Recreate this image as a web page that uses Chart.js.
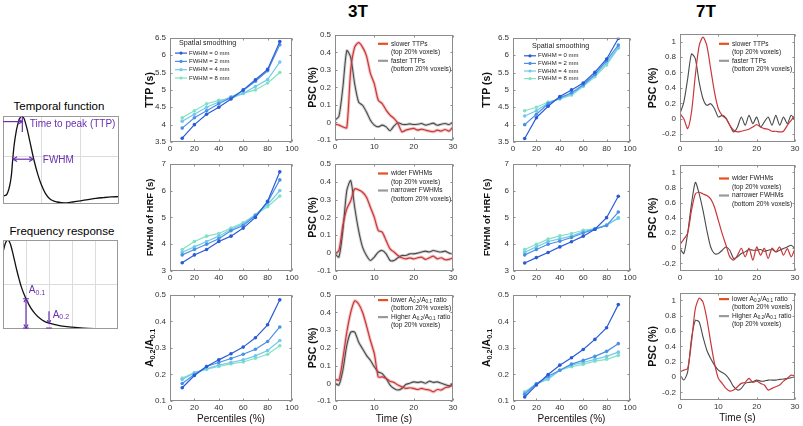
<!DOCTYPE html>
<html lang="en">
<head>
<meta charset="UTF-8">
<meta name="viewport" content="width=device-width, initial-scale=1.0">
<script src="https://cdn.jsdelivr.net/npm/chart.js"></script>
<title>HRF shape and spatial smoothing, 3T and 7T</title>
<style>
    body { margin: 0; background: #fff; }
    #fig { position: relative; width: 803px; height: 426px; overflow: hidden;
           font-family: "Liberation Sans", Arial, sans-serif; }
    #fig canvas { position: absolute; }
    .lbl { position: absolute; white-space: nowrap; text-align: center; color: #000; }
</style>
</head>
<body>
<div id="fig">
    <div class="lbl" style="left:318px; top:2px; width:80px; font-size:17px; font-weight:bold;">3T</div>
    <div class="lbl" style="left:666px; top:2px; width:80px; font-size:17px; font-weight:bold;">7T</div>
    <div class="lbl" style="left:0px; top:100px; width:118px; font-size:11.5px;">Temporal function</div>
    <div class="lbl" style="left:0px; top:225px; width:124px; font-size:11.5px;">Frequency response</div>
</div>

<script>
// ---------------- data ----------------
const percentiles = [10, 20, 30, 40, 50, 60, 70, 80, 90];
const smoothLabels = ['FWHM = 0 mm', 'FWHM = 2 mm', 'FWHM = 4 mm', 'FWHM = 8 mm'];

// 3T, metric vs percentile, one array per smoothing kernel
const ttp3T_0mm = [3.61, 4.0, 4.3, 4.5, 4.74, 5.0, 5.29, 5.59, 6.39];
const ttp3T_2mm = [3.9, 4.2, 4.4, 4.6, 4.78, 4.98, 5.25, 5.55, 6.3];
const ttp3T_4mm = [4.1, 4.3, 4.5, 4.65, 4.8, 4.9, 5.1, 5.3, 5.8];
const ttp3T_8mm = [4.2, 4.4, 4.6, 4.7, 4.75, 4.9, 5.0, 5.2, 5.5];

const fwhm3T_0mm = [3.31, 3.6, 3.8, 4.1, 4.3, 4.6, 5.0, 5.6, 6.7];
const fwhm3T_2mm = [3.6, 3.8, 4.0, 4.2, 4.5, 4.7, 5.06, 5.57, 6.4];
const fwhm3T_4mm = [3.7, 3.9, 4.1, 4.3, 4.55, 4.75, 5.1, 5.48, 6.0];
const fwhm3T_8mm = [3.8, 4.1, 4.3, 4.4, 4.6, 4.8, 5.1, 5.4, 5.8];

const ratio3T_0mm = [0.15, 0.196, 0.23, 0.255, 0.278, 0.303, 0.338, 0.387, 0.481];
const ratio3T_2mm = [0.166, 0.2, 0.23, 0.245, 0.26, 0.276, 0.295, 0.324, 0.379];
const ratio3T_4mm = [0.181, 0.206, 0.221, 0.235, 0.245, 0.255, 0.27, 0.29, 0.328];
const ratio3T_8mm = [0.186, 0.206, 0.22, 0.23, 0.24, 0.247, 0.261, 0.276, 0.308];

// 7T
const ttp7T_0mm = [3.6, 4.2, 4.53, 4.81, 5.0, 5.2, 5.51, 5.89, 6.48];
const ttp7T_2mm = [4.0, 4.3, 4.6, 4.77, 4.92, 5.15, 5.45, 5.84, 6.29];
const ttp7T_4mm = [4.25, 4.4, 4.62, 4.75, 4.88, 5.12, 5.42, 5.78, 6.22];
const ttp7T_8mm = [4.4, 4.5, 4.65, 4.74, 4.85, 5.1, 5.38, 5.72, 6.2];

const fwhm7T_0mm = [3.3, 3.5, 3.69, 3.9, 4.09, 4.3, 4.56, 4.99, 5.79];
const fwhm7T_2mm = [3.6, 3.8, 4.0, 4.11, 4.25, 4.42, 4.56, 4.7, 5.2];
const fwhm7T_4mm = [3.7, 3.9, 4.1, 4.2, 4.3, 4.47, 4.56, 4.72, 4.97];
const fwhm7T_8mm = [3.8, 4.0, 4.19, 4.31, 4.4, 4.52, 4.58, 4.7, 4.99];

const ratio7T_0mm = [0.115, 0.16, 0.2, 0.235, 0.263, 0.294, 0.332, 0.376, 0.463];
const ratio7T_2mm = [0.125, 0.165, 0.193, 0.216, 0.239, 0.253, 0.268, 0.287, 0.316];
const ratio7T_4mm = [0.13, 0.165, 0.185, 0.216, 0.235, 0.245, 0.257, 0.268, 0.284];
const ratio7T_8mm = [0.135, 0.165, 0.181, 0.216, 0.229, 0.238, 0.25, 0.257, 0.272];

// averaged PSC time courses (s)
const timeSec = [0, 1, 2, 3, 4, 5, 6, 7, 8, 9, 10, 11, 12, 13, 14, 15, 16, 17, 18, 19, 20,
                 21, 22, 23, 24, 25, 26, 27, 28, 29, 30];

const psc3T_slowTTP = [-0.01, -0.015, -0.025, -0.03, 0.3, 0.43, 0.455, 0.43, 0.38, 0.28, 0.22, 0.127,
    0.108, 0.07, 0.042, 0.023, -0.006, -0.053, -0.044, -0.038, -0.034, -0.044, -0.038, -0.044,
    -0.049, -0.053, -0.044, -0.049, -0.04, -0.049, -0.025];
const psc3T_fastTTP = [0.013, 0.035, 0.2, 0.41, 0.37, 0.22, 0.117, 0.098, 0.06, 0.013, -0.015, -0.025,
    -0.015, -0.025, -0.047, -0.02, -0.002, -0.01, -0.012, -0.008, -0.012, -0.01, -0.006, -0.015,
    -0.01, -0.004, -0.016, -0.01, -0.006, -0.012, 0.0];

const psc3T_wideFWHM = [-0.004, 0.015, 0.155, 0.248, 0.294, 0.36, 0.354, 0.341, 0.313, 0.257, 0.2, 0.127,
    0.117, 0.07, 0.024, 0.006, -0.013, -0.026, -0.032, -0.026, -0.032, -0.026, -0.022, -0.035,
    -0.026, -0.017, -0.032, -0.026, -0.037, -0.035, -0.026];
const psc3T_narrowFWHM = [-0.004, -0.022, 0.127, 0.35, 0.406, 0.257, 0.127, 0.034, -0.013, -0.041, -0.022,
    0.006, 0.015, -0.004, -0.041, -0.041, -0.026, -0.013, -0.013, -0.004, -0.004, 0.0, 0.006,
    0.011, 0.006, 0.015, 0.009, 0.006, 0.011, 0.0, -0.004];

const psc3T_lowRatio = [0.023, 0.018, 0.139, 0.289, 0.401, 0.466, 0.448, 0.401, 0.326, 0.242, 0.167, 0.036,
    0.036, 0.027, 0.012, 0.005, -0.01, -0.02, -0.029, -0.025, -0.029, -0.035, -0.029, -0.035,
    -0.038, -0.048, -0.035, -0.038, -0.025, -0.02, -0.01];
const psc3T_highRatio = [0.0, -0.01, 0.074, 0.214, 0.289, 0.289, 0.233, 0.195, 0.158, 0.13, 0.093, 0.064,
    0.055, 0.027, -0.01, -0.029, -0.038, -0.029, -0.007, 0.0, 0.008, 0.005, 0.008, 0.0, 0.012,
    0.005, 0.008, 0.0, -0.007, -0.014, 0.0];

const psc7T_slowTTP = [0.067, 0.002, -0.127, 0.088, 0.561, 0.948, 1.056, 0.948, 0.647, 0.346, 0.131, 0.045,
    0.002, -0.084, -0.148, -0.17, -0.161, -0.148, -0.135, -0.105, -0.075, -0.105, -0.127, -0.135,
    -0.161, -0.161, -0.17, -0.161, -0.084, -0.019, 0.045];
const psc7T_fastTTP = [0.067, 0.217, 0.518, 0.84, 0.776, 0.475, 0.26, 0.174, 0.196, 0.131, 0.024, 0.045,
    0.011, -0.084, -0.17, -0.105, 0.024, -0.084, 0.045, -0.062, 0.024, -0.105, -0.04, 0.024,
    -0.084, 0.045, -0.084, 0.024, -0.062, 0.045, -0.019];

const psc7T_wideFWHM = [0.05, 0.12, 0.2, 0.498, 0.716, 0.738, 0.716, 0.694, 0.65, 0.541, 0.367, 0.192,
    0.039, -0.114, -0.157, -0.092, 0.0, -0.114, 0.0, -0.157, 0.017, -0.092, 0.0, -0.135, 0.0,
    -0.048, 0.017, -0.092, -0.004, -0.114, -0.004];
const psc7T_narrowFWHM = [0.0, -0.07, 0.2, 0.585, 0.869, 0.716, 0.498, 0.236, 0.017, -0.07, -0.07, -0.026,
    0.017, -0.026, -0.135, -0.114, -0.07, -0.048, -0.017, -0.026, -0.026, -0.017, -0.039, -0.026,
    -0.017, -0.048, -0.026, -0.004, 0.017, 0.039, -0.004];

const psc7T_lowRatio = [0.068, 0.09, 0.112, 0.458, 0.892, 1.03, 0.978, 0.761, 0.458, 0.177, -0.018, -0.083,
    -0.148, -0.183, -0.17, -0.126, -0.083, -0.07, -0.018, -0.07, -0.053, -0.083, -0.105, -0.17,
    -0.148, -0.126, -0.105, -0.053, -0.018, 0.025, 0.017];
const psc7T_highRatio = [0.025, -0.04, 0.068, 0.502, 0.74, 0.718, 0.523, 0.35, 0.242, 0.155, 0.09, 0.06,
    0.025, -0.04, -0.126, -0.17, -0.148, -0.083, -0.07, -0.061, -0.04, -0.053, -0.053, -0.04,
    -0.04, -0.04, -0.031, -0.026, -0.018, -0.009, 0.004];

// schematic: canonical HRF and its amplitude spectrum
const hrfTime = [0, 1, 2, 2.5, 3, 4, 5, 6, 7, 8, 9, 10, 11, 12, 13, 14, 15, 16, 17, 18, 20, 22, 24, 26, 28, 30];
const hrfValue = [0, 0.02, 0.2, 0.45, 0.68, 0.93, 1.0, 0.88, 0.67, 0.45, 0.27, 0.13, 0.03, -0.03, -0.06,
    -0.075, -0.083, -0.085, -0.082, -0.075, -0.06, -0.045, -0.03, -0.02, -0.012, -0.008];
const freqHz = [0, 0.01, 0.02, 0.03, 0.04, 0.05, 0.06, 0.07, 0.08, 0.09, 0.1, 0.12, 0.14, 0.16, 0.18, 0.2,
    0.25, 0.3, 0.35, 0.4, 0.45, 0.5];
const freqAmp = [0.86, 0.96, 1.0, 0.97, 0.88, 0.77, 0.66, 0.56, 0.47, 0.4, 0.34, 0.24, 0.17, 0.12, 0.085,
    0.065, 0.035, 0.02, 0.01, 0.005, 0.003, 0.002];
// annotation values on the schematic
const hrfPeakTime = 5, hrfHalfLeft = 2.6, hrfHalfRight = 7.8;

// ---------------- styling ----------------
const FONT = '"Liberation Sans", Arial, sans-serif';
Chart.defaults.font.family = FONT;
Chart.defaults.color = '#333';
const smoothColors = ['#2a5bd7', '#4a90e6', '#72c8ee', '#80e2c2'];
const RED = '#c9373a', GRAY = '#4a4a4a', PURPLE = '#6a2fb0';

const fmt = v => String(+(+v).toFixed(2));

// frame around plot area + little inward ticks (matlab look)
Chart.register({
    id: 'boxFrame',
    afterDraw(chart, args, opts) {
        const {ctx, chartArea: a} = chart;
        ctx.save();
        ctx.strokeStyle = opts.color || '#8c8c8c';
        ctx.lineWidth = 1;
        const L = Math.round(a.left) + 0.5, T = Math.round(a.top) + 0.5;
        const R = Math.round(a.right) - 0.5, B = Math.round(a.bottom) - 0.5;
        ctx.strokeRect(L, T, R - L, B - T);
        if (opts.ticks) {
            ctx.beginPath();
            chart.scales.x.ticks.forEach(t => {
                const px = Math.round(chart.scales.x.getPixelForValue(t.value)) + 0.5;
                ctx.moveTo(px, B); ctx.lineTo(px, B - 2);
                ctx.moveTo(px, T); ctx.lineTo(px, T + 2);
            });
            chart.scales.y.ticks.forEach(t => {
                const py = Math.round(chart.scales.y.getPixelForValue(t.value)) + 0.5;
                ctx.moveTo(L, py); ctx.lineTo(L + 2, py);
                ctx.moveTo(R, py); ctx.lineTo(R - 2, py);
            });
            ctx.stroke();
        }
        ctx.restore();
    }
});

function addCanvas(x, y, w, h) {
    const c = document.createElement('canvas');
    c.width = w; c.height = h;
    c.style.left = x + 'px'; c.style.top = y + 'px';
    c.style.width = w + 'px'; c.style.height = h + 'px';
    document.getElementById('fig').appendChild(c);
    return c;
}

// text with subscript parts: segs = [[text, isSub], ...]
function drawRich(ctx, segs, x, y, size, bold, color, align) {
    const fMain = (bold ? 'bold ' : '') + size + 'px ' + FONT;
    const fSub = (bold ? 'bold ' : '') + (size * 0.7).toFixed(1) + 'px ' + FONT;
    let total = 0;
    segs.forEach(s => { ctx.font = s[1] ? fSub : fMain; total += ctx.measureText(s[0]).width; });
    let cx = align === 'center' ? x - total / 2 : x;
    ctx.fillStyle = color;
    ctx.textBaseline = 'middle';
    ctx.textAlign = 'left';
    segs.forEach(s => {
        ctx.font = s[1] ? fSub : fMain;
        ctx.fillText(s[0], cx, s[1] ? y + size * 0.28 : y);
        cx += ctx.measureText(s[0]).width;
    });
}

function xAxis(min, max, ticks, xH, title, showTicks = true) {
    return {
        type: 'linear', min: min, max: max,
        afterBuildTicks: s => { s.ticks = ticks.map(v => ({value: v})); },
        afterFit: s => { s.height = xH; },
        grid: {display: false, drawTicks: false},
        border: {display: false},
        ticks: {display: showTicks, font: {size: 8}, padding: 2, color: '#333',
                maxRotation: 0, autoSkip: false, callback: fmt},
        title: title ? {display: true, text: title, font: {size: 10}, color: '#111',
                        padding: {top: 0, bottom: 1}} : {display: false}
    };
}

function yAxis(min, max, ticks, yW, title, titlePad, titleSize = 10.5) {
    return {
        type: 'linear', min: min, max: max,
        afterBuildTicks: s => { s.ticks = ticks.map(v => ({value: v})); },
        afterFit: s => { s.width = yW; },
        grid: {display: false, drawTicks: false},
        border: {display: false},
        ticks: {font: {size: 8}, padding: 4, color: '#333', callback: fmt},
        title: title ? {display: true, text: title, font: {size: titleSize, weight: 'bold'}, color: '#111',
                        padding: {top: titlePad, bottom: 0}} : {display: false}
    };
}

function makeChart(rect, conf) {
    const padT = conf.padT ?? 8, padR = conf.padR ?? 12, padB = conf.padB ?? 0;
    const left = rect.l - conf.yW, top = rect.t - padT;
    const w = rect.r - rect.l + conf.yW + padR;
    const h = rect.b - rect.t + padT + conf.xH + padB;
    const canvas = addCanvas(left, top, w, h);
    return new Chart(canvas, {
        type: 'line',
        data: {datasets: conf.datasets},
        options: {
            responsive: false,
            animation: false,
            layout: {padding: {left: 0, top: padT, right: padR, bottom: padB}},
            plugins: {legend: {display: false}, tooltip: {enabled: false}, boxFrame: conf.frame || {ticks: true}},
            scales: {x: conf.x, y: conf.y}
        },
        plugins: conf.plugins || []
    });
}

function smoothSets(series) {
    return series.map((vals, i) => ({
        data: percentiles.map((p, j) => ({x: p, y: vals[j]})),
        borderColor: smoothColors[i],
        backgroundColor: smoothColors[i],
        borderWidth: 1.2,
        pointRadius: 1.8,
        pointBorderWidth: 0,
        tension: 0
    }));
}

function pscSets(redVals, grayVals, band) {
    const line = (vals, color, width) => ({
        data: timeSec.map((t, i) => ({x: t, y: vals[i]})),
        borderColor: color, borderWidth: width, pointRadius: 0,
        tension: 0.25, cubicInterpolationMode: 'default'
    });
    const sets = [line(redVals, RED, 1.2), line(grayVals, GRAY, 1.1)];
    if (band) {
        sets.push(line(redVals, 'rgba(232,150,150,0.55)', 3.2));
        sets.push(line(grayVals, 'rgba(175,175,175,0.55)', 3.0));
    }
    return sets;
}

function smoothLegend(dx, dy, titleDx, gap) {
    return {
        id: 'smoothLegend',
        afterDraw(chart) {
            const {ctx, chartArea: a} = chart;
            ctx.save();
            ctx.textBaseline = 'middle';
            ctx.textAlign = 'left';
            ctx.fillStyle = '#222';
            ctx.font = '7.2px ' + FONT;
            ctx.fillText('Spatial smoothing', a.left + titleDx, a.top + dy);
            smoothLabels.forEach((lab, i) => {
                const y = a.top + dy + 10 + i * gap, x0 = a.left + dx;
                ctx.strokeStyle = smoothColors[i];
                ctx.lineWidth = 1.2;
                ctx.beginPath(); ctx.moveTo(x0, y); ctx.lineTo(x0 + 12, y); ctx.stroke();
                ctx.fillStyle = smoothColors[i];
                ctx.beginPath(); ctx.arc(x0 + 6, y, 1.6, 0, Math.PI * 2); ctx.fill();
                ctx.fillStyle = '#222';
                ctx.font = '6px ' + FONT;
                ctx.fillText(lab, x0 + 14, y);
            });
            ctx.restore();
        }
    };
}

const REDKEY = '#e5521f', GRAYKEY = '#9a9a9a';
function pscLegend(entries, dx, dy) {
    return {
        id: 'pscLegend',
        afterDraw(chart) {
            const {ctx, chartArea: a} = chart;
            ctx.save();
            entries.forEach((e, i) => {
                const y0 = a.top + dy + i * 17;
                ctx.strokeStyle = e.color;
                ctx.lineWidth = 2.2;
                ctx.beginPath(); ctx.moveTo(a.left + dx, y0); ctx.lineTo(a.left + dx + 10, y0); ctx.stroke();
                drawRich(ctx, e.l1, a.left + dx + 13, y0, 6.6, false, '#222');
                drawRich(ctx, e.l2, a.left + dx + 13, y0 + 8.5, 6.6, false, '#222');
            });
            ctx.restore();
        }
    };
}

const ratioSegs = [['A', 0], ['0.2', 1], ['/A', 0], ['0.1', 1]];
function ratioTitle(xRel) {
    return {
        id: 'ratioTitle',
        afterDraw(chart) {
            const {ctx, chartArea: a} = chart;
            ctx.save();
            ctx.translate(xRel, (a.top + a.bottom) / 2);
            ctx.rotate(-Math.PI / 2);
            drawRich(ctx, ratioSegs, 0, 0, 10.5, true, '#111', 'center');
            ctx.restore();
        }
    };
}

const legTTP = [
    {color: REDKEY, l1: [['slower TTPs', 0]], l2: [['(top 20% voxels)', 0]]},
    {color: GRAYKEY, l1: [['faster TTPs', 0]], l2: [['(bottom 20% voxels)', 0]]}
];
const legFWHM = [
    {color: REDKEY, l1: [['wider FWHMs', 0]], l2: [['(top 20% voxels)', 0]]},
    {color: GRAYKEY, l1: [['narrower FWHMs', 0]], l2: [['(bottom 20% voxels)', 0]]}
];
const legRatio = [
    {color: REDKEY, l1: [['lower A', 0], ['0.2', 1], ['/A', 0], ['0.1', 1], [' ratio', 0]], l2: [['(bottom 20% voxels)', 0]]},
    {color: GRAYKEY, l1: [['Higher A', 0], ['0.2', 1], ['/A', 0], ['0.1', 1], [' ratio', 0]], l2: [['(top 20% voxels)', 0]]}
];

// ---------------- panels ----------------
const pctTicks = [0, 20, 40, 60, 80, 100];
const ttpTicks = [3.5, 4, 4.5, 5, 5.5, 6, 6.5];
const fwhmTicks = [3, 4, 5, 6, 7];
const ratioTicks = [0.1, 0.2, 0.3, 0.4, 0.5];
const timeTicks = [0, 10, 20, 30];
const psc3Ticks = [-0.1, 0, 0.1, 0.2, 0.3, 0.4, 0.5];
const psc7Ticks = [-0.2, 0, 0.2, 0.4, 0.6, 0.8, 1];

function percentilePanels(colL, colR, yW, titleX, sets, legend) {
    const rows = [{t: 37, b: 142}, {t: 163, b: 271}, {t: 294, b: 401}];
    const pad = titleX - (colL - yW) - 6.3;
    makeChart({l: colL, r: colR, t: rows[0].t, b: rows[0].b}, {
        yW: yW, xH: 14, datasets: smoothSets(sets[0]),
        x: xAxis(0, 100, pctTicks, 14), y: yAxis(3.5, 6.5, ttpTicks, yW, 'TTP (s)', pad),
        plugins: [legend]
    });
    makeChart({l: colL, r: colR, t: rows[1].t, b: rows[1].b}, {
        yW: yW, xH: 14, datasets: smoothSets(sets[1]),
        x: xAxis(0, 100, pctTicks, 14), y: yAxis(3, 7, fwhmTicks, yW, 'FWHM of HRF (s)', pad + 0.5, 9.5)
    });
    makeChart({l: colL, r: colR, t: rows[2].t, b: rows[2].b}, {
        yW: yW, xH: 25, datasets: smoothSets(sets[2]),
        x: xAxis(0, 100, pctTicks, 25, 'Percentiles (%)'), y: yAxis(0.1, 0.5, ratioTicks, yW, null, 0),
        plugins: [ratioTitle(titleX - (colL - yW))]
    });
}

percentilePanels(170, 292, 34, 150,
    [[ttp3T_0mm, ttp3T_2mm, ttp3T_4mm, ttp3T_8mm],
     [fwhm3T_0mm, fwhm3T_2mm, fwhm3T_4mm, fwhm3T_8mm],
     [ratio3T_0mm, ratio3T_2mm, ratio3T_4mm, ratio3T_8mm]],
    smoothLegend(5, 5.3, 9, 8.3));

percentilePanels(513, 630, 38, 487,
    [[ttp7T_0mm, ttp7T_2mm, ttp7T_4mm, ttp7T_8mm],
     [fwhm7T_0mm, fwhm7T_2mm, fwhm7T_4mm, fwhm7T_8mm],
     [ratio7T_0mm, ratio7T_2mm, ratio7T_4mm, ratio7T_8mm]],
    smoothLegend(11, 8, 19, 7.6));

function pscPanels(colL, colR, yW, titleX, rows, yMin, yMax, yTicks, series, legs, band) {
    const pad = titleX - (colL - yW) - 6.3;
    rows.forEach((r, i) => {
        const last = i === rows.length - 1;
        makeChart({l: colL, r: colR, t: r.t, b: r.b}, {
            yW: yW, xH: last ? 25 : 14,
            datasets: pscSets(series[i][0], series[i][1], band),
            x: xAxis(0, 30, timeTicks, last ? 25 : 14, last ? 'Time (s)' : null),
            y: yAxis(yMin, yMax, yTicks, yW, 'PSC (%)', pad),
            plugins: [pscLegend(legs[i].entries, legs[i].dx, legs[i].dy)]
        });
    });
}

pscPanels(335, 453, 34, 313,
    [{t: 34, b: 140}, {t: 163, b: 271}, {t: 294, b: 401}], -0.1, 0.5, psc3Ticks,
    [[psc3T_slowTTP, psc3T_fastTTP], [psc3T_wideFWHM, psc3T_narrowFWHM], [psc3T_lowRatio, psc3T_highRatio]],
    [{entries: legTTP, dx: 43, dy: 9}, {entries: legFWHM, dx: 43, dy: 9.7}, {entries: legRatio, dx: 43, dy: 5.3}],
    true);

pscPanels(680, 795, 40, 653,
    [{t: 33, b: 142}, {t: 164, b: 271}, {t: 292, b: 400}], -0.3, 1.1, psc7Ticks,
    [[psc7T_slowTTP, psc7T_fastTTP], [psc7T_wideFWHM, psc7T_narrowFWHM], [psc7T_lowRatio, psc7T_highRatio]],
    [{entries: legTTP, dx: 39, dy: 10}, {entries: legFWHM, dx: 39, dy: 13.7}, {entries: legRatio, dx: 39, dy: 6.3}],
    false);

// ---------------- schematic (left) ----------------
function gridAxis(min, max, gridVals, horizontal) {
    return {
        type: 'linear', min: min, max: max,
        afterBuildTicks: s => { s.ticks = gridVals.map(v => ({value: v})); },
        afterFit: s => { if (horizontal) s.height = 0; else s.width = 0; },
        grid: {display: true, drawTicks: false, color: '#dcdcdc', lineWidth: 1},
        border: {display: false},
        ticks: {display: false}
    };
}

function arrowHead(ctx, x, y, dir, s) {
    ctx.beginPath();
    if (dir === 'r') { ctx.moveTo(x - s, y - s * 0.6); ctx.lineTo(x, y); ctx.lineTo(x - s, y + s * 0.6); }
    if (dir === 'l') { ctx.moveTo(x + s, y - s * 0.6); ctx.lineTo(x, y); ctx.lineTo(x + s, y + s * 0.6); }
    if (dir === 'u') { ctx.moveTo(x - s * 0.6, y + s); ctx.lineTo(x, y); ctx.lineTo(x + s * 0.6, y + s); }
    if (dir === 'd') { ctx.moveTo(x - s * 0.6, y - s); ctx.lineTo(x, y); ctx.lineTo(x + s * 0.6, y - s); }
    ctx.stroke();
}

const hrfNotes = {
    id: 'hrfNotes',
    afterDraw(chart) {
        const {ctx, chartArea: a, scales: {x, y}} = chart;
        ctx.save();
        ctx.strokeStyle = PURPLE; ctx.lineWidth = 1.2;
        const px = x.getPixelForValue(hrfPeakTime), py = y.getPixelForValue(0.93);
        ctx.beginPath(); ctx.moveTo(a.left, py); ctx.lineTo(px, py); ctx.stroke();
        arrowHead(ctx, px, py, 'r', 4);
        ctx.beginPath(); ctx.moveTo(px, y.getPixelForValue(1.0)); ctx.lineTo(px, y.getPixelForValue(0.8)); ctx.stroke();
        const hy = y.getPixelForValue(0.46);
        const hl = x.getPixelForValue(hrfHalfLeft), hr = x.getPixelForValue(hrfHalfRight);
        ctx.beginPath(); ctx.moveTo(hl, hy); ctx.lineTo(hr, hy); ctx.stroke();
        arrowHead(ctx, hl, hy, 'l', 4);
        arrowHead(ctx, hr, hy, 'r', 4);
        ctx.fillStyle = PURPLE;
        ctx.font = '10px ' + FONT;
        ctx.textBaseline = 'middle'; ctx.textAlign = 'left';
        ctx.fillText('Time to peak (TTP)', x.getPixelForValue(6.9), y.getPixelForValue(0.9));
        ctx.fillText('FWHM', x.getPixelForValue(10.3), y.getPixelForValue(0.45));
        ctx.restore();
    }
};

const freqNotes = {
    id: 'freqNotes',
    afterDraw(chart) {
        const {ctx, scales: {x, y}} = chart;
        const a01 = freqAmp[freqHz.indexOf(0.1)], a02 = freqAmp[freqHz.indexOf(0.2)];
        ctx.save();
        ctx.strokeStyle = PURPLE; ctx.lineWidth = 1.2;
        const x1 = x.getPixelForValue(0.1), top1 = y.getPixelForValue(a01), base = y.getPixelForValue(0) - 1;
        ctx.beginPath(); ctx.moveTo(x1, top1); ctx.lineTo(x1, base);
        ctx.moveTo(x1 - 3, top1); ctx.lineTo(x1 + 3, top1);
        ctx.moveTo(x1 - 3, base); ctx.lineTo(x1 + 3, base); ctx.stroke();
        arrowHead(ctx, x1, top1, 'u', 3.5);
        arrowHead(ctx, x1, base, 'd', 3.5);
        const x2 = x.getPixelForValue(0.2), top2 = y.getPixelForValue(a02);
        ctx.beginPath(); ctx.moveTo(x2, y.getPixelForValue(0.2)); ctx.lineTo(x2, top2);
        ctx.moveTo(x2 - 3, base); ctx.lineTo(x2 + 3, base); ctx.stroke();
        arrowHead(ctx, x2, top2, 'd', 3);
        drawRich(ctx, [['A', 0], ['0.1', 1]], x.getPixelForValue(0.112), y.getPixelForValue(0.44), 10, false, PURPLE);
        drawRich(ctx, [['A', 0], ['0.2', 1]], x.getPixelForValue(0.216), y.getPixelForValue(0.16), 10, false, PURPLE);
        ctx.restore();
    }
};

makeChart({l: 3, r: 119, t: 116, b: 204}, {
    yW: 0, xH: 0, padT: 2, padR: 3, padB: 2,
    frame: {color: '#9a9a9a', ticks: false},
    datasets: [{data: hrfTime.map((t, i) => ({x: t, y: hrfValue[i]})), borderColor: '#111',
                borderWidth: 1.3, pointRadius: 0, tension: 0.4}],
    x: gridAxis(0, 30, [10, 20], true), y: gridAxis(-0.1, 1.0, [0.5], false),
    plugins: [hrfNotes]
});

makeChart({l: 3, r: 118, t: 240, b: 329}, {
    yW: 0, xH: 0, padT: 2, padR: 3, padB: 2,
    frame: {color: '#9a9a9a', ticks: false},
    datasets: [{data: freqHz.map((f, i) => ({x: f, y: freqAmp[i]})), borderColor: '#111',
                borderWidth: 1.3, pointRadius: 0, tension: 0.4}],
    x: gridAxis(0, 0.5, [0.1, 0.2, 0.3, 0.4], true), y: gridAxis(0, 1.0, [0.5], false),
    plugins: [freqNotes]
});
</script>
</body>
</html>
